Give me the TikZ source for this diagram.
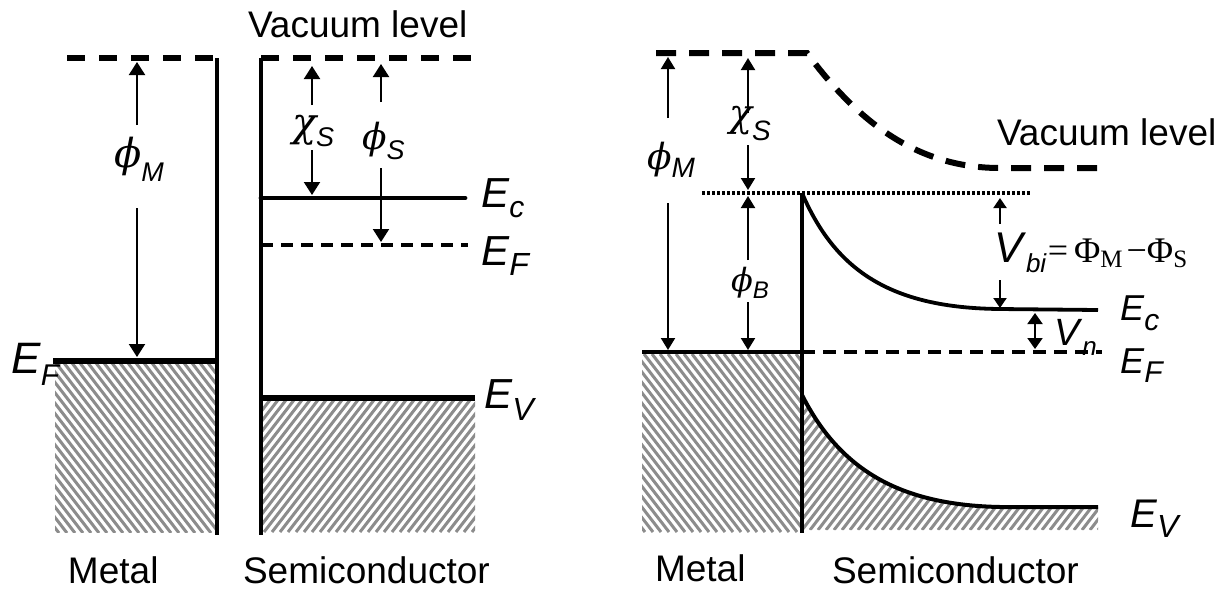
\documentclass[tikz,border=0pt]{standalone}
\usepackage{fontspec}
\setmainfont{Liberation Sans}
\newfontfamily\tnr{Liberation Serif}
\newfontfamily\grk{DejaVu Serif}
\usetikzlibrary{arrows.meta}
\newcommand\fs[1]{\fontsize{#1}{#1}\selectfont}
\newcommand\sbs[3]{\raisebox{-#1}{\fs{#2}\textit{#3}}}
\newcommand\gph{{\grk\itshape ϕ}}
\newcommand\gch{{\grk\itshape χ}}
\tikzset{
  vacdash/.style={line width=3.2pt, dash pattern=on 9pt off 7pt},
  vacdashR/.style={line width=3pt, dash pattern=on 10pt off 6.5pt},
  band/.style={line width=3pt},
  bandc/.style={line width=2.4pt, line cap=round},
  wall/.style={line width=2pt},
  wallR/.style={line width=1.8pt},
  fdash/.style={line width=1.7pt, dash pattern=on 6pt off 4pt},
  fdashR/.style={line width=1.9pt, dash pattern=on 6.5pt off 4pt},
  dotline/.style={line width=1.8pt, dash pattern=on 1.5pt off 1pt},
  bandcurve/.style={line width=1.9pt},
  arrL/.style={line width=1pt, -{Triangle[length=6.5pt,width=8pt]}},
  arrR/.style={line width=1pt, -{Triangle[length=6pt,width=7pt]}},
  arrS/.style={line width=1pt, -{Triangle[length=5pt,width=6.5pt]}},
  arrD/.style={line width=1pt, {Triangle[length=5.5pt,width=7.5pt]}-{Triangle[length=5.5pt,width=7.5pt]}},
  hatchline/.style={line width=1.5pt, draw=black!45},
  lbl/.style={inner sep=0pt, outer sep=0pt, anchor=base west},
}
\begin{document}
\begin{tikzpicture}[x=0.5pt, y=-0.5pt]
\fill[white] (0,0) rectangle (1227,591);
\useasboundingbox (0,0) rectangle (1227,591);

% ---------------- hatching ----------------
\begin{scope}
  \clip (55,363) rectangle (215,532);
  \foreach \s in {-80,-72,...,216} \draw[hatchline] (\s,363) -- ++(131,170);
\end{scope}
\begin{scope}
  \clip (263,400) rectangle (475,532);
  \foreach \s in {160,168,...,480} \draw[hatchline] (\s,532) -- ++(102,-132);
\end{scope}
\begin{scope}
  \clip (642,354) rectangle (800,532);
  \foreach \s in {500,508,...,800} \draw[hatchline] (\s,354) -- ++(137,178);
\end{scope}
\begin{scope}
  \clip (803,395) .. controls (840,470) and (900,505) .. (1000,507) -- (1098,507) -- (1098,530) -- (803,530) -- cycle;
  \foreach \s in {690,698,...,1100} \draw[hatchline] (\s,530) -- ++(110,-143);
\end{scope}

% ---------------- left panel ----------------
\coordinate (mvacA) at (67,58);   \coordinate (mvacB) at (217,58);
\coordinate (mbot) at (217,535);
\coordinate (mefA) at (53,361);   \coordinate (mefB) at (217,361);
\coordinate (svacA) at (261,58);  \coordinate (svacB) at (475,58);
\coordinate (sbot) at (261,535);
\coordinate (secA) at (261,198);  \coordinate (secB) at (465,198);
\coordinate (sefA) at (261,245);  \coordinate (sefB) at (468,245);
\coordinate (sevA) at (261,398);  \coordinate (sevB) at (475,398);

\draw[vacdash] (mvacA) -- (mvacB);
\draw[wall] (mvacB) -- (mbot);
\draw[band] (mefA) -- (mefB);
\draw[wall] (svacA) -- (sbot);
\draw[vacdash] (svacA) -- (svacB);
\draw[bandc] (secA) -- (secB);
\draw[fdash] (sefA) -- (sefB);
\draw[band] (sevA) -- (sevB);

% labels left
\node[lbl] (vacL) at (248,37) {\fs{18.5}Vacuum level};
\node[lbl] (metL) at (68,583) {\fs{18.5}Metal};
\node[lbl] (semL) at (243,583) {\fs{18.5}Semiconductor};
\node[lbl] (efM) at (11,373) {\fs{22}\textit{E}\sbs{6pt}{15}{F}};
\node[lbl] (ecS) at (481,207) {\fs{21}\textit{E}\sbs{5pt}{15}{c}};
\node[lbl] (efS) at (481,265) {\fs{21}\textit{E}\sbs{5pt}{16}{F}};
\node[lbl] (evS) at (484,408) {\fs{21}\textit{E}\sbs{6pt}{16}{V}};

\node[lbl] (phiML) at (114,167) {\fs{20}\gph\sbs{7pt}{13.5}{M}};
\node[lbl] (chiSL) at (292,136) {\fs{20}\gch\sbs{5pt}{13.5}{S}};
\node[lbl] (phiSL) at (362,149) {\fs{18}\gph\sbs{5pt}{13.5}{S}};

% arrows left
\coordinate (pmU0) at (137,125); \coordinate (pmU1) at (137,62);
\coordinate (pmD0) at (137,208); \coordinate (pmD1) at (137,357);
\coordinate (csU0) at (312,105); \coordinate (csU1) at (312,66);
\coordinate (csD0) at (312,150); \coordinate (csD1) at (312,195);
\coordinate (psU0) at (381,102); \coordinate (psU1) at (381,64);
\coordinate (psD0) at (381,168); \coordinate (psD1) at (381,242);
\draw[arrL] (pmU0) -- (pmU1);
\draw[arrL] (pmD0) -- (pmD1);
\draw[arrL] (csU0) -- (csU1);
\draw[arrL] (csD0) -- (csD1);
\draw[arrL] (psU0) -- (psU1);
\draw[arrL] (psD0) -- (psD1);

% ---------------- right panel ----------------
\coordinate (rvacA) at (656,53);  \coordinate (rvacK) at (807,53);
\coordinate (rvacF) at (1000,168); \coordinate (rvacB) at (1102,168);
\coordinate (dotA) at (702,193);  \coordinate (dotB) at (1032,193);
\coordinate (ifT) at (802,193);   \coordinate (ifB) at (802,533);
\coordinate (ecF) at (1000,309);  \coordinate (ecB) at (1098,310);
\coordinate (refA) at (642,352);  \coordinate (refI) at (802,352);
\coordinate (refB) at (1102,352);
\coordinate (evT) at (802,395);   \coordinate (evF) at (1000,507);
\coordinate (evB) at (1098,507);

\draw[vacdashR] (rvacA) -- (rvacK) .. controls (860,125) and (920,168) .. (rvacF) -- (rvacB);
\draw[dotline] (dotA) -- (dotB);
\draw[wallR] (ifT) -- (ifB);
\draw[bandcurve] (ifT) .. controls (835,270) and (890,308) .. (ecF) -- (ecB);
\draw[line width=2pt] (refA) -- (refI);
\draw[fdashR] (refI) -- (refB);
\draw[line width=2pt] (evT) .. controls (840,470) and (900,505) .. (evF) -- (evB);

% labels right
\node[lbl] (vacR) at (997,145) {\fs{18.5}Vacuum level};
\node[lbl] (metR) at (655,581) {\fs{18.5}Metal};
\node[lbl] (semR) at (832,583) {\fs{18.5}Semiconductor};
\node[lbl] (ecR) at (1120,320) {\fs{18}\textit{E}\sbs{5pt}{15}{c}};
\node[lbl] (efR) at (1120,373) {\fs{18}\textit{E}\sbs{4.5pt}{15}{F}};
\node[lbl] (evR) at (1130,527) {\fs{20}\textit{E}\sbs{5pt}{16}{V}};

\node[lbl] (phiMR) at (647,169) {\fs{18}\gph\sbs{4pt}{14}{M}};
\node[lbl] (chiSR) at (729,126) {\fs{19}\gch\sbs{7pt}{14}{S}};
\node[lbl] (phiBR) at (731,291) {\fs{16}\gph\sbs{3.5pt}{12}{B}};
\node[lbl] (vbi) at (994,262) {\fs{21.5}\textit{V}\sbs{5pt}{13}{bi}\hspace{0.5pt}{\tnr\fs{18}=\hspace{3pt}Φ\raisebox{-2.5pt}{\fs{12.5}M}\hspace{2pt}−Φ\raisebox{-2.5pt}{\fs{12.5}S}}};
\node[lbl] (vn) at (1054,345) {\fs{19}\textit{V}\sbs{5pt}{13}{n}};

% arrows right
\coordinate (rpmU0) at (668,118); \coordinate (rpmU1) at (668,57);
\coordinate (rpmD0) at (668,203); \coordinate (rpmD1) at (668,350);
\coordinate (rcsU0) at (748,113); \coordinate (rcsU1) at (748,58);
\coordinate (rcsD0) at (748,145); \coordinate (rcsD1) at (748,190);
\coordinate (rpbU0) at (748,260); \coordinate (rpbU1) at (748,196);
\coordinate (rpbD0) at (748,302); \coordinate (rpbD1) at (748,350);
\coordinate (vbU0) at (1000,224); \coordinate (vbU1) at (1000,198);
\coordinate (vbD0) at (1000,280); \coordinate (vbD1) at (1000,308);
\coordinate (vnA) at (1035,313);  \coordinate (vnB) at (1035,349);
\draw[arrR] (rpmU0) -- (rpmU1);
\draw[arrR] (rpmD0) -- (rpmD1);
\draw[arrR] (rcsU0) -- (rcsU1);
\draw[arrR] (rcsD0) -- (rcsD1);
\draw[arrR] (rpbU0) -- (rpbU1);
\draw[arrR] (rpbD0) -- (rpbD1);
\draw[arrS] (vbU0) -- (vbU1);
\draw[arrS] (vbD0) -- (vbD1);
\draw[arrD] (vnA) -- (vnB);
\end{tikzpicture}
\end{document}
